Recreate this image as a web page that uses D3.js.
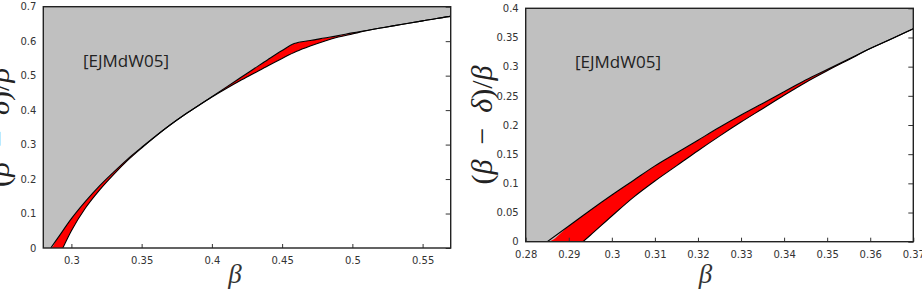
<!DOCTYPE html>
<html>
<head>
<meta charset="utf-8">
<script src="https://cdn.jsdelivr.net/npm/d3@7"></script>
<style>
  body { margin: 0; background: #fff; }
  svg { display: block; }
  .tick text { font-family: "DejaVu Sans", Verdana, sans-serif; font-size: 10px; fill: #333; }
</style>
</head>
<body>
<div id="chart"></div>
<script>
// ---- data: left panel ----
var leftUpperX = [0.2853, 0.29, 0.30, 0.31, 0.32, 0.33, 0.34, 0.35, 0.36, 0.37, 0.38, 0.39, 0.40, 0.41, 0.42, 0.43, 0.44, 0.45, 0.4586, 0.47, 0.48, 0.49, 0.50, 0.51, 0.52, 0.53, 0.54, 0.55, 0.56, 0.57];
var leftUpperY = [0, 0.027, 0.085, 0.135, 0.180, 0.220, 0.258, 0.292, 0.325, 0.356, 0.385, 0.412, 0.439, 0.466, 0.493, 0.520, 0.547, 0.573, 0.593, 0.602, 0.609, 0.616, 0.624, 0.631, 0.638, 0.645, 0.652, 0.659, 0.666, 0.672];
var leftLowerX = [0.2939, 0.30, 0.31, 0.32, 0.33, 0.34, 0.35, 0.36, 0.37, 0.38, 0.39, 0.40, 0.41, 0.42, 0.43, 0.44, 0.45, 0.46, 0.47, 0.48, 0.49, 0.50, 0.51, 0.52, 0.53, 0.54, 0.55, 0.56, 0.57];
var leftLowerY = [0, 0.050, 0.116, 0.168, 0.213, 0.254, 0.290, 0.324, 0.356, 0.385, 0.412, 0.438, 0.462, 0.485, 0.507, 0.529, 0.550, 0.570, 0.586, 0.600, 0.612, 0.621, 0.630, 0.638, 0.645, 0.652, 0.659, 0.666, 0.672];
var leftXTicks = [0.3, 0.35, 0.4, 0.45, 0.5, 0.55];
var leftYTicks = [0, 0.1, 0.2, 0.3, 0.4, 0.5, 0.6, 0.7];

// ---- data: right panel ----
var rightUpperX = [0.2850, 0.29, 0.295, 0.30, 0.305, 0.31, 0.315, 0.32, 0.325, 0.33, 0.335, 0.34, 0.345, 0.35, 0.355, 0.36, 0.365, 0.37];
var rightUpperY = [0, 0.027, 0.054, 0.080, 0.105, 0.130, 0.152, 0.174, 0.196, 0.217, 0.237, 0.257, 0.277, 0.295, 0.313, 0.331, 0.348, 0.365];
var rightLowerX = [0.2933, 0.295, 0.30, 0.305, 0.31, 0.315, 0.32, 0.325, 0.33, 0.335, 0.34, 0.345, 0.35, 0.355, 0.36, 0.365, 0.37];
var rightLowerY = [0, 0.011, 0.044, 0.076, 0.104, 0.130, 0.156, 0.181, 0.205, 0.228, 0.251, 0.273, 0.293, 0.312, 0.331, 0.348, 0.365];
var rightXTicks = [0.28, 0.29, 0.3, 0.31, 0.32, 0.33, 0.34, 0.35, 0.36, 0.37];
var rightYTicks = [0, 0.05, 0.1, 0.15, 0.2, 0.25, 0.3, 0.35, 0.4];

var panelLabel = "[EJMdW05]";

var w = 922, h = 294;
var svg = d3.select("#chart").append("svg").attr("width", w).attr("height", h);

var fmt = function(d) { return d === 0 ? "0" : String(+d.toFixed(2)); };

function drawPanel(p) {
    var x = d3.scaleLinear().domain(p.xDomain).range([p.left, p.right]);
    var y = d3.scaleLinear().domain(p.yDomain).range([p.bottom, p.top]);

    var upper = d3.zip(p.upperX, p.upperY);
    var lower = d3.zip(p.lowerX, p.lowerY);

    var clipId = "clip" + p.id;
    svg.append("clipPath").attr("id", clipId)
        .append("rect")
        .attr("x", p.left).attr("y", p.top)
        .attr("width", p.right - p.left).attr("height", p.bottom - p.top);

    var g = svg.append("g").attr("clip-path", "url(#" + clipId + ")");

    var curve = d3.curveMonotoneX;

    //Red band: everything under the upper curve
    g.append("path")
        .datum(upper)
        .attr("fill", "#ff0000")
        .attr("d", d3.area().curve(curve)
            .x(d => x(d[0])).y0(y(0)).y1(d => y(d[1])));

    //White under the lower curve
    g.append("path")
        .datum(lower)
        .attr("fill", "#ffffff")
        .attr("d", d3.area().curve(curve)
            .x(d => x(d[0])).y0(y(0)).y1(d => y(d[1])));

    //Gray above the upper curve
    var grey = [[p.xDomain[0], 0]].concat(upper);
    g.append("path")
        .datum(grey)
        .attr("fill", "#c0c0c0")
        .attr("d", d3.area().curve(curve)
            .x(d => x(d[0])).y0(y(p.yDomain[1])).y1(d => y(d[1])));

    //Boundary lines
    var line = d3.line().curve(curve).x(d => x(d[0])).y(d => y(d[1]));
    [upper, lower].forEach(function(data) {
        g.append("path")
            .datum(data)
            .attr("fill", "none")
            .attr("stroke", "#000")
            .attr("stroke-width", 1.1)
            .attr("d", line);
    });

    //Axes (ticks inside)
    var xAxis = d3.axisBottom(x).tickValues(p.xTicks).tickFormat(fmt)
        .tickSizeInner(-4).tickSizeOuter(0).tickPadding(9);
    var yAxis = d3.axisLeft(y).tickValues(p.yTicks).tickFormat(fmt)
        .tickSize(0).tickPadding(7);
    var yAxisR = d3.axisRight(y).tickValues(p.yTicks).tickFormat("")
        .tickSizeInner(-5).tickSizeOuter(0);

    var gx = svg.append("g")
        .attr("transform", "translate(0," + p.bottom + ")")
        .call(xAxis);
    var gy = svg.append("g")
        .attr("transform", "translate(" + p.left + ",0)")
        .call(yAxis);
    var gr = svg.append("g")
        .attr("transform", "translate(" + p.right + ",0)")
        .call(yAxisR);
    [gx, gy, gr].forEach(function(a) {
        a.select(".domain").remove();
        a.selectAll(".tick line").attr("stroke", "#333");
    });

    //Box
    svg.append("rect")
        .attr("x", p.left).attr("y", p.top)
        .attr("width", p.right - p.left).attr("height", p.bottom - p.top)
        .attr("fill", "none")
        .attr("stroke", "#222")
        .attr("stroke-width", 1.4);

    //Annotation
    svg.append("text")
        .attr("x", p.noteX).attr("y", p.noteY)
        .attr("font-family", "'Open Sans', sans-serif")
        .attr("font-size", 17)
        .attr("fill", "#222")
        .text(panelLabel);

    //x label
    svg.append("text")
        .attr("x", (p.left + p.right) / 2 + p.xLabelShift)
        .attr("y", 283)
        .attr("text-anchor", "middle")
        .attr("font-family", "'Liberation Serif', serif")
        .attr("font-style", "italic")
        .attr("font-size", 27)
        .attr("fill", "#333")
        .text("β");

    //y label
    var yl = svg.append("text")
        .attr("transform", "translate(" + (p.left - 34) + "," + ((p.top + p.bottom) / 2) + ") rotate(-90)")
        .attr("text-anchor", "middle")
        .attr("font-family", "'Liberation Serif', serif")
        .attr("font-size", 30)
        .attr("fill", "#222");
    yl.append("tspan").text("(");
    yl.append("tspan").attr("font-style", "italic").text("β");
    yl.append("tspan").text("\u2002\u2212\u2002");
    yl.append("tspan").attr("font-style", "italic").text("δ");
    yl.append("tspan").text(")/");
    yl.append("tspan").attr("font-style", "italic").text("β");
}

drawPanel({
    id: "L", left: 43.3, right: 450.7, top: 6.7, bottom: 248,
    xDomain: [0.28, 0.57], yDomain: [0, 0.7],
    upperX: leftUpperX, upperY: leftUpperY, lowerX: leftLowerX, lowerY: leftLowerY,
    xTicks: leftXTicks, yTicks: leftYTicks,
    noteX: 83, noteY: 67, xLabelShift: -12
});

drawPanel({
    id: "R", left: 525.7, right: 913.3, top: 8.3, bottom: 241.7,
    xDomain: [0.28, 0.37], yDomain: [0, 0.4],
    upperX: rightUpperX, upperY: rightUpperY, lowerX: rightLowerX, lowerY: rightLowerY,
    xTicks: rightXTicks, yTicks: rightYTicks,
    noteX: 575, noteY: 68, xLabelShift: -14
});
</script>
</body>
</html>
